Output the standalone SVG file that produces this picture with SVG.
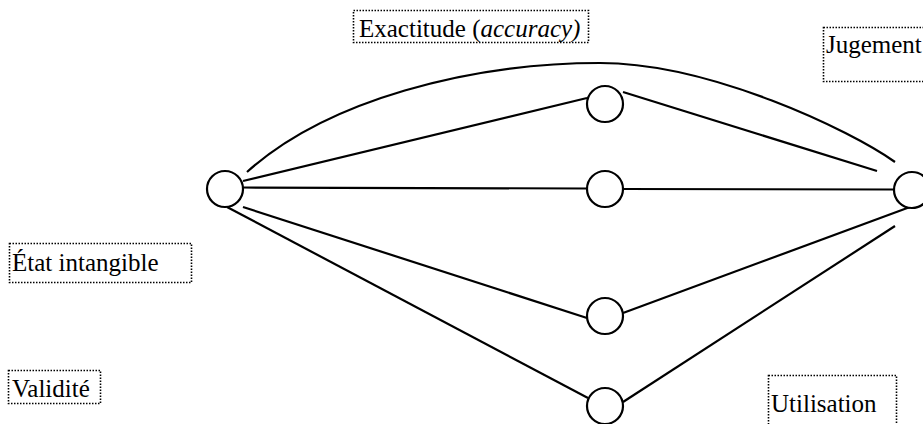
<svg xmlns="http://www.w3.org/2000/svg" width="923" height="424" viewBox="0 0 923 424">
<style>
.lbl{fill:none;stroke:#000;stroke-width:1.6;stroke-dasharray:1.5 1.5}
text{font-family:'Liberation Serif','Times New Roman',serif;font-size:25px;fill:#000}
.n{fill:#fff;stroke:#000;stroke-width:2.2}
.c{fill:none;stroke:#000;stroke-width:2.2}
</style>
<rect width="923" height="424" fill="#fff"/>
<g id="connectors">
<path class="c" d="M247,172 C327,100 470,63 600,63 C710,63 850,130 895,162"/>
<line class="c" x1="243" y1="181" x2="587" y2="98"/>
<line class="c" x1="243" y1="187.5" x2="587" y2="188.5"/>
<line class="c" x1="243" y1="207" x2="587" y2="318"/>
<line class="c" x1="227" y1="207" x2="588" y2="398"/>
<line class="c" x1="623" y1="92" x2="877" y2="171"/>
<line class="c" x1="623" y1="189" x2="894" y2="189.5"/>
<line class="c" x1="623" y1="313" x2="910" y2="207"/>
<line class="c" x1="623" y1="402" x2="895" y2="226"/>
</g>
<g id="n-left"><circle class="n" cx="225" cy="189" r="18"/></g>
<g id="n-m1"><circle class="n" cx="605" cy="104" r="18"/></g>
<g id="n-m2"><circle class="n" cx="605" cy="189" r="18"/></g>
<g id="n-m3"><circle class="n" cx="605" cy="316" r="18"/></g>
<g id="n-m4"><circle class="n" cx="605" cy="406" r="18"/></g>
<g id="n-right"><circle class="n" cx="912" cy="190" r="18"/></g>
<g id="l-exactitude"><rect class="lbl" x="353.5" y="10.5" width="235" height="32"/><text x="359" y="37">Exactitude (<tspan font-style="italic">accuracy)</tspan></text></g>
<g id="l-jugement"><rect class="lbl" x="823.5" y="27.5" width="110" height="54"/><text x="826" y="53">Jugement</text></g>
<g id="l-etat"><rect class="lbl" x="9.5" y="243.5" width="182" height="39"/><text x="12" y="271">État intangible</text></g>
<g id="l-validite"><rect class="lbl" x="8.5" y="370.5" width="92" height="33"/><text x="12" y="397">Validité</text></g>
<g id="l-utilisation"><rect class="lbl" x="768.5" y="375.5" width="128" height="60"/><text x="771" y="412">Utilisation</text></g>
</svg>
